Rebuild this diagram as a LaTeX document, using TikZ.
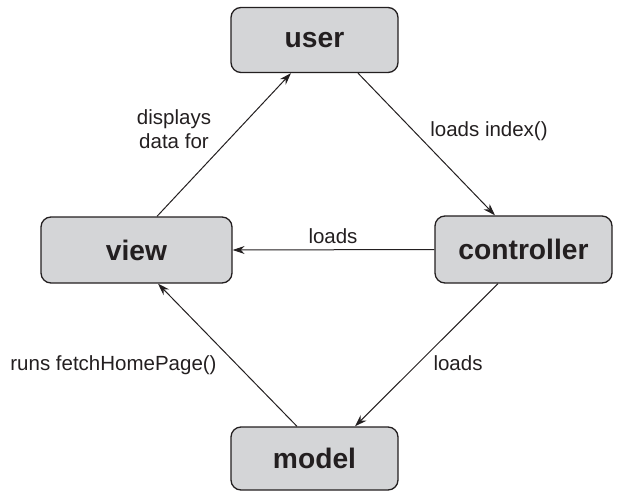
\documentclass[tikz,border=0pt]{standalone}
\usepackage{fontspec}
\setmainfont{Liberation Sans}
\usetikzlibrary{arrows.meta}
\definecolor{boxfill}{HTML}{D4D5D7}
\definecolor{boxline}{HTML}{231F20}
\begin{document}
\begin{tikzpicture}[x=1pt,y=1pt,
  box/.style={draw=boxline,line width=1.3pt,fill=boxfill,rounded corners=10pt,
    inner sep=0pt,font=\fontsize{28.2}{30}\selectfont\bfseries,text=boxline},
  lbl/.style={font=\fontsize{20.5}{24}\selectfont,text=boxline,inner sep=0pt},
  conn/.style={draw=boxline,line width=1pt,-{Stealth[length=12pt,width=8pt]}}]
\useasboundingbox (0,0) rectangle (617,493);
\node[box,minimum width=167pt,minimum height=65pt] (user) at (314.5,453) {user};
\node[box,minimum width=191pt,minimum height=66pt] (view) at (136.5,243) {view};
\node[box,minimum width=177pt,minimum height=67pt] (ctrl) at (523.5,243.5) {controller};
\node[box,minimum width=167pt,minimum height=63pt] (model) at (314.5,34.5) {model};
\draw[conn] ([xshift=20.5pt]view.north) -- ([xshift=-23.5pt]user.south);
\draw[conn] ([xshift=43.5pt]user.south) -- ([xshift=-28.5pt]ctrl.north);
\draw[conn] (ctrl.west) -- (view.east);
\draw[conn] ([xshift=-25.5pt]ctrl.south) -- ([xshift=40.5pt]model.north);
\draw[conn] ([xshift=-17.5pt]model.north) -- ([xshift=21.5pt]view.south);
\node[lbl,align=center] (l1) at (174,364) {displays\\data for};
\node[lbl] (l2) at (489,362) {loads index()};
\node[lbl] (l3) at (333,257) {loads};
\node[lbl] (l4) at (458,130) {loads};
\node[lbl] (l5) at (113.5,128) {runs fetchHomePage()};
\end{tikzpicture}
\end{document}
